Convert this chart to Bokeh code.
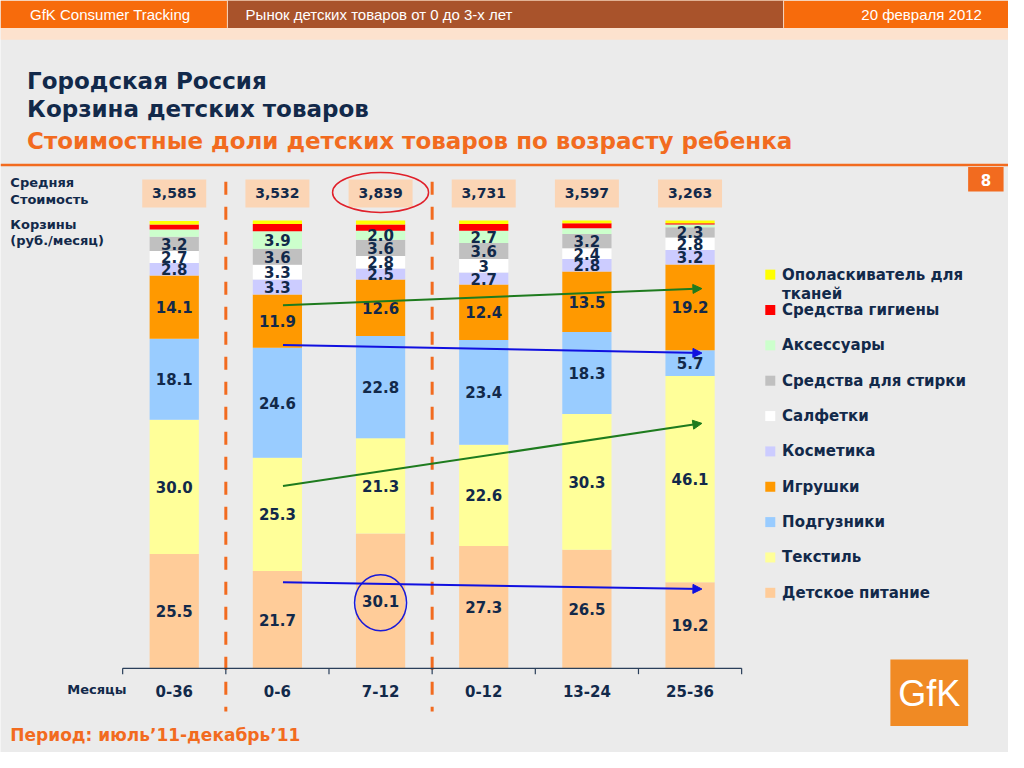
from bokeh.plotting import figure
from bokeh.models import Range1d, ColumnDataSource, Arrow, NormalHead
from bokeh.core.properties import value
from bokeh.embed import file_html
from bokeh.resources import INLINE

# ---------------- data ----------------
ages = ["0-36", "0-6", "7-12", "0-12", "13-24", "25-36"]
avg_cost = ["3,585", "3,532", "3,839", "3,731", "3,597", "3,263"]

series = ["Детское питание", "Текстиль", "Подгузники", "Игрушки", "Косметика",
          "Салфетки", "Средства для стирки", "Аксессуары", "Средства гигиены",
          "Ополаскиватель для тканей"]
colors = ["#FFCC99", "#FFFF99", "#99CCFF", "#FF9900", "#CCCCFF",
          "#FFFFFF", "#C0C0C0", "#CCFFCC", "#FF0000", "#FFFF00"]

baby_food   = [25.5, 21.7, 30.1, 27.3, 26.5, 19.2]
textile     = [30.0, 25.3, 21.3, 22.6, 30.3, 46.1]
diapers     = [18.1, 24.6, 22.8, 23.4, 18.3, 5.7]
toys        = [14.1, 11.9, 12.6, 12.4, 13.5, 19.2]
cosmetics   = [2.8, 3.3, 2.5, 2.7, 2.8, 3.2]
wipes       = [2.7, 3.3, 2.8, 3.0, 2.4, 2.8]
laundry     = [3.2, 3.6, 3.6, 3.6, 3.2, 2.3]
accessories = [1.6, 3.9, 2.0, 2.7, 1.3, 0.6]
hygiene     = [1.1, 1.6, 1.4, 1.5, 1.1, 0.3]
softener    = [0.8, 0.8, 0.9, 0.8, 0.6, 0.6]

values = [baby_food, textile, diapers, toys, cosmetics, wipes, laundry,
          accessories, hygiene, softener]

lbl_baby_food   = ["25.5", "21.7", "30.1", "27.3", "26.5", "19.2"]
lbl_textile     = ["30.0", "25.3", "21.3", "22.6", "30.3", "46.1"]
lbl_diapers     = ["18.1", "24.6", "22.8", "23.4", "18.3", "5.7"]
lbl_toys        = ["14.1", "11.9", "12.6", "12.4", "13.5", "19.2"]
lbl_cosmetics   = ["2.8", "3.3", "2.5", "2.7", "2.8", "3.2"]
lbl_wipes       = ["2.7", "3.3", "2.8", "3", "2.4", "2.8"]
lbl_laundry     = ["3.2", "3.6", "3.6", "3.6", "3.2", "2.3"]
lbl_accessories = ["", "3.9", "2.0", "2.7", "", ""]
lbl_hygiene     = ["", "", "", "", "", ""]
lbl_softener    = ["", "", "", "", "", ""]
labels = [lbl_baby_food, lbl_textile, lbl_diapers, lbl_toys, lbl_cosmetics,
          lbl_wipes, lbl_laundry, lbl_accessories, lbl_hygiene, lbl_softener]

# ---------------- styles / layout ----------------
BG = "#EBEBEB"
NAVY = "#12294A"
ORANGE = "#F26B1F"
FONT = "DejaVu Sans"
W, H = 1008, 752
X0, DX, Y0, DY = 176.5, 104.8, 682.0, 4.573   # slide-pixel position of the bar scale

p = figure(width=W, height=H,
           x_range=Range1d(-X0 / DX, (1024 - X0) / DX),
           y_range=Range1d(-(768 - Y0) / DY, Y0 / DY),
           x_axis_type=None, y_axis_type=None,
           output_backend="svg", toolbar_location=None,
           min_border=0, min_border_left=0, min_border_right=0,
           min_border_top=0, min_border_bottom=0,
           background_fill_color=BG, border_fill_color=BG,
           outline_line_color=None)
p.extra_x_ranges = {"px": Range1d(0, 1024)}
p.extra_y_ranges = {"px": Range1d(768, 0)}
PX = dict(x_range_name="px", y_range_name="px")


def ptext(x, y, text, size, color=NAVY, bold=True, align="left",
          font=FONT, baseline="middle"):
    p.text(x=[x], y=[y], text=[text], text_font=value(font),
           text_font_size=f"{size}px",
           text_font_style="bold" if bold else "normal",
           text_color=color, text_align=align, text_baseline=baseline, **PX)


# header
p.quad(left=[0], right=[1024], top=[0], bottom=[28], color="#F76B0C", line_color=None, **PX)
p.quad(left=[231], right=[795], top=[0], bottom=[28], color="#A9532B", line_color=None, **PX)
p.segment(x0=[230.5, 795.5], y0=[0, 0], x1=[230.5, 795.5], y1=[28, 28],
          line_color="#F3D9C8", line_width=1, **PX)
p.quad(left=[0], right=[1024], top=[28], bottom=[40], color="#FDE2CE", line_color=None, **PX)
ptext(30, 14, "GfK Consumer Tracking", 15, "white", False, font="Liberation Sans")
ptext(249, 14, "Рынок детских товаров от 0 до 3-х лет", 15, "white", False, font="Liberation Sans")
ptext(997, 14, "20 февраля 2012", 15, "white", False, "right", font="Liberation Sans")

# titles
ptext(27, 82, "Городская Россия", 23)
ptext(27, 111, "Корзина детских товаров", 23)
ptext(27, 143, "Стоимостные доли детских товаров по возрасту ребенка", 23, ORANGE)
p.segment(x0=[0], y0=[168], x1=[1024], y1=[168], line_color=ORANGE, line_width=2.5, **PX)
p.quad(left=[983], right=[1019], top=[170], bottom=[195], color=ORANGE, line_color=None, **PX)
ptext(1001, 183, "8", 15, "white", True, "center")

# left captions
ptext(10, 186, "Средняя", 13)
ptext(10, 203, "Стоимость", 13)
ptext(10, 229, "Корзины", 13)
ptext(10, 245, "(руб./месяц)", 13)

# dashed separators
p.segment(x0=[0.5, 2.5], y0=[185, 185], x1=[0.5, 2.5], y1=[726, 726],
          line_color=ORANGE, line_width=3, line_dash="13 12", y_range_name="px")

# stacked bars
idx = list(range(len(ages)))
src = ColumnDataSource({"x": idx, **{s: v for s, v in zip(series, values)}})
p.vbar_stack(stackers=series, x="x", width=50 / DX, color=colors,
             line_color=None, source=src)

# bar labels
lx, ly, lt = [], [], []
cum = [0.0] * len(ages)
for vals, labs in zip(values, labels):
    for i, (v, t) in enumerate(zip(vals, labs)):
        if t:
            lx.append(i)
            ly.append(cum[i] + v / 2)
            lt.append(t)
        cum[i] += v
p.text(x=lx, y=ly, text=lt, text_font=value(FONT), text_font_size="15px",
       text_font_style="bold", text_color=NAVY, text_align="center",
       text_baseline="middle")

# average cost boxes
p.rect(x=idx, y=[197] * len(idx), width=64, height=28, width_units="screen",
       height_units="screen", color="#FBD5B5", line_color=None, y_range_name="px")
p.text(x=idx, y=[197] * len(idx), text=avg_cost, text_font=value(FONT),
       text_font_size="14px", text_font_style="bold", text_color=NAVY,
       text_align="center", text_baseline="middle", y_range_name="px")

# highlights
p.ellipse(x=[2], y=[196], width=96, height=40, width_units="screen",
          height_units="screen", fill_color=None, line_color="#E0202A",
          line_width=1.5, y_range_name="px")
p.ellipse(x=[2], y=[615], width=52, height=56, width_units="screen",
          height_units="screen", fill_color=None, line_color="#1A1AD8",
          line_width=1.5, y_range_name="px")

# trend arrows (x: bar index, y: share)
arrows = [
    (1.054, 81.1, 5.115, 84.8, "#1E7B1E"),
    (1.054, 72.2, 5.115, 70.4, "#1010E0"),
    (1.054, 40.7, 5.115, 54.7, "#1E7B1E"),
    (1.054, 19.2, 5.115, 17.7, "#1010E0"),
]
for xs, ys, xe, ye, c in arrows:
    p.add_layout(Arrow(end=NormalHead(size=9, fill_color=c, line_color=c),
                       x_start=xs, y_start=ys, x_end=xe, y_end=ye,
                       line_color=c, line_width=2))

# category axis
p.segment(x0=[-0.5], y0=[0], x1=[len(ages) - 0.5], y1=[0], line_color="#2A3F5A", line_width=1.2)
ticks = [i - 0.5 for i in range(len(ages) + 1)]
p.segment(x0=ticks, y0=[0] * len(ticks), x1=ticks, y1=[-6 / DY] * len(ticks),
          line_color="#2A3F5A", line_width=1.2)
p.text(x=idx, y=[705] * len(idx), text=ages, text_font=value(FONT),
       text_font_size="15px", text_font_style="bold", text_color=NAVY,
       text_align="center", text_baseline="middle", y_range_name="px")
ptext(128, 704, "Месяцы", 13, align="right")

# legend
leg_names = [s.replace(" для тканей", " для\nтканей") for s in reversed(series)]
leg_colors = list(reversed(colors))
ly0, lstep = 280, 36.1
p.rect(x=[782] * len(leg_names), y=[ly0 + lstep * k for k in range(len(leg_names))],
       width=10, height=10, width_units="screen", height_units="screen",
       color=leg_colors, line_color=None, **PX)
for k, name in enumerate(leg_names):
    for j, line in enumerate(name.split("\n")):
        ptext(794, ly0 + lstep * k + 19.5 * j, line, 15)

# logo and period
p.quad(left=[904], right=[983], top=[673], bottom=[741], color="#F08A24", line_color=None, **PX)
ptext(943.5, 708, "GfK", 36, "white", False, "center", font="Liberation Sans")
ptext(10, 750, "Период: июль’11-декабрь’11", 17, ORANGE)

open("out.html", "w").write(file_html(p, INLINE))
